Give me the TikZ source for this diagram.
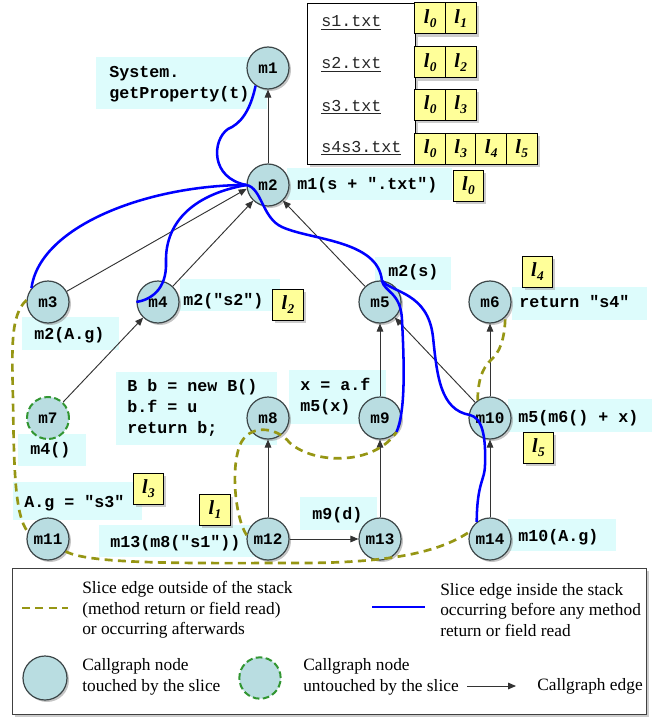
\documentclass[tikz,border=0pt]{standalone}
\usepackage{fontspec}
\setmainfont{Liberation Serif}
\setmonofont{Liberation Mono}
\usetikzlibrary{arrows.meta,shadows}
\definecolor{nodefill}{RGB}{185,221,225}
\definecolor{nodeline}{RGB}{60,70,72}
\definecolor{labelbg}{RGB}{221,252,252}
\definecolor{cellyellow}{RGB}{255,255,153}
\definecolor{slicedashcol}{RGB}{150,150,20}
\definecolor{sliceblue}{RGB}{0,0,255}
\definecolor{untouchgreen}{RGB}{50,150,50}
\newcommand\ellsub[1]{{\bfseries\itshape\fontsize{15}{15}\selectfont l\kern0.3pt\raisebox{-3pt}{\fontsize{10}{10}\selectfont #1}}}
\begin{document}
\begin{tikzpicture}[x=0.75pt,y=-0.75pt,
  cgbase/.style={circle, draw=nodeline, line width=0.9pt, fill=nodefill, minimum size=31.5pt, inner sep=0pt,
    font=\ttfamily\bfseries\fontsize{12}{12}\selectfont},
  cg/.style={cgbase, drop shadow={shadow xshift=1.5pt, shadow yshift=-1.5pt, fill=black!45}},
  untouched/.style={cgbase, draw=untouchgreen, line width=1.5pt, dash pattern=on 5pt off 2.5pt},
  code/.style={font=\ttfamily\bfseries\fontsize{12.5}{15.75}\selectfont, align=left, inner sep=0pt, anchor=west},
  labelbox/.style={fill=labelbg},
  lcell/.style={draw=black, line width=0.75pt, fill=cellyellow, minimum width=22.9pt, minimum height=23.25pt, inner sep=0pt,
    drop shadow={shadow xshift=2pt, shadow yshift=-2pt, fill=black!40}},
  tblbox/.style={draw=black, line width=0.9pt, fill=white, inner sep=0pt,
    drop shadow={shadow xshift=2pt, shadow yshift=-2pt, fill=black!40}},
  cgedge/.style={draw=black!80, line width=0.7pt, -{Triangle[length=6pt,width=5pt]}},
  slice/.style={draw=sliceblue, line width=1.9pt},
  slicedash/.style={draw=slicedashcol, line width=2pt, dash pattern=on 6pt off 4pt},
  fname/.style={font=\ttfamily\fontsize{12.5}{15}\selectfont, text=black!85, anchor=base west, inner sep=0pt},
  legtext/.style={font=\fontsize{13}{15.4}\selectfont, align=left, anchor=west, inner sep=0pt}
]
\useasboundingbox (0,0) rectangle (652,717);

% ---------- table of strings ----------
\node[tblbox, minimum width=81pt, minimum height=120.75pt, anchor=north west] (tbl) at (307,3) {};
\node[fname] (f1) at (321,27) {\underline{s1.txt}};
\node[fname] (f2) at (321,69) {\underline{s2.txt}};
\node[fname] (f3) at (321,111) {\underline{s3.txt}};
\node[fname] (f4) at (321,152) {\underline{s4s3.txt}};
\node[lcell] (c11) at (430.25,18.5) {\ellsub{0}};
\node[lcell] (c12) at (460.75,18.5) {\ellsub{1}};
\node[lcell] (c21) at (430.25,62.5) {\ellsub{0}};
\node[lcell] (c22) at (460.75,62.5) {\ellsub{2}};
\node[lcell] (c31) at (430.25,105) {\ellsub{0}};
\node[lcell] (c32) at (460.75,105) {\ellsub{3}};
\node[lcell] (c41) at (430.25,148.5) {\ellsub{0}};
\node[lcell] (c42) at (460.75,148.5) {\ellsub{3}};
\node[lcell] (c43) at (491.25,148.5) {\ellsub{4}};
\node[lcell] (c44) at (521.75,148.5) {\ellsub{5}};

% ---------- label backgrounds ----------
\fill[labelbox] (96,57) rectangle (267,109);
\fill[labelbox] (287,168) rectangle (452,200);
\fill[labelbox] (22,317) rectangle (119,350);
\fill[labelbox] (180,279) rectangle (280,311);
\fill[labelbox] (375,257) rectangle (451,290);
\fill[labelbox] (512,287) rectangle (647,320);
\fill[labelbox] (18,434) rectangle (86,466);
\fill[labelbox] (116,372) rectangle (277,445);
\fill[labelbox] (289,370) rectangle (386,424);
\fill[labelbox] (508,399) rectangle (652,432);
\fill[labelbox] (13,482) rectangle (142,520);
\fill[labelbox] (99,525) rectangle (258,557);
\fill[labelbox] (300,497) rectangle (377,530);
\fill[labelbox] (508,519) rectangle (616,551);

% ---------- label texts ----------
\node[code] (t1) at (109,84.5) {System.\\getProperty(t)};
\node[code] (t2) at (297,185) {m1(s + ".txt")};
\node[code] (t3) at (34,335) {m2(A.g)};
\node[code] (t4) at (183,301) {m2("s2")};
\node[code] (t5) at (388,272) {m2(s)};
\node[code] (t6) at (519,302) {return "s4"};
\node[code] (t7) at (30,450) {m4()};
\node[code] (t8) at (127,408) {B b = new B()\\b.f = u\\return b;};
\node[code] (t9) at (300,397) {x = a.f\\m5(x)};
\node[code] (t10) at (518,418) {m5(m6() + x)};
\node[code] (t11) at (24,503) {A.g = "s3"};
\node[code] (t12) at (110,543) {m13(m8("s1"))};
\node[code] (t13) at (312,515) {m9(d)};
\node[code] (t14) at (518,537) {m10(A.g)};

% ---------- l boxes ----------
\node[lcell] (L0) at (468.5,186) {\ellsub{0}};
\node[lcell] (L2) at (288,304.5) {\ellsub{2}};
\node[lcell] (L4) at (537.5,271.5) {\ellsub{4}};
\node[lcell] (L5) at (538.5,448) {\ellsub{5}};
\node[lcell] (L3) at (148.5,488.5) {\ellsub{3}};
\node[lcell] (L1) at (215,510) {\ellsub{1}};

% ---------- callgraph nodes ----------
\node[cg] (m1) at (268,68) {m1};
\node[cg] (m2) at (268,185) {m2};
\node[cg] (m3) at (48,302) {m3};
\node[cg] (m4) at (158,302) {m4};
\node[cg] (m5) at (380,302) {m5};
\node[cg] (m6) at (490,302) {m6};
\node[untouched] (m7) at (48,418) {m7};
\node[cg] (m8) at (268,418) {m8};
\node[cg] (m9) at (380,418) {m9};
\node[cg] (m10) at (490,418) {m10};
\node[cg] (m11) at (48,539) {m11};
\node[cg] (m12) at (268,539) {m12};
\node[cg] (m13) at (380,539) {m13};
\node[cg] (m14) at (490,539) {m14};

% ---------- callgraph edges ----------
\draw[cgedge] (m2) -- (m1);
\draw[cgedge] (m3) -- (m2.190);
\draw[cgedge] (m4) -- (m2);
\draw[cgedge] (m5) -- (m2);
\draw[cgedge] (m7) -- (m4);
\draw[cgedge] (m9) -- (m5);
\draw[cgedge] (m10) -- (m5);
\draw[cgedge] (m10) -- (m6);
\draw[cgedge] (m12) -- (m8);
\draw[cgedge] (m13) -- (m9);
\draw[cgedge] (m14) -- (m10);
\draw[cgedge] (m12) -- (m13);

% ---------- slice edges outside the stack ----------
\draw[slicedash] (m3.175) .. controls (10,315) and (12,350) .. (13,400)
   .. controls (14,460) and (14,515) .. (m11.160);
\draw[slicedash] (m11.-35) .. controls (90,565) and (200,563) .. (300,563)
   .. controls (390,563) and (440,552) .. (m14.160);
\draw[slicedash] (m12.170) .. controls (236,520) and (230,470) .. (240,445)
   .. controls (248,425) and (275,425) .. (290,443)
   .. controls (315,465) and (375,465) .. (m9.-40);
\draw[slicedash] (m10.125) .. controls (478,375) and (485,365) .. (493,358)
   .. controls (503,348) and (505,330) .. (m6.-45);

% ---------- slice edges inside the stack ----------
\draw[slice] (m1.235) .. controls (250,112) and (240,124) .. (228,129)
   .. controls (212,140) and (210,178) .. (m2.west);
\draw[slice] (m2.west) .. controls (150,185) and (40,225) .. (m3.140);
\draw[slice] (m2.west) .. controls (190,195) and (165,225) .. (166,262)
   .. controls (167,290) and (150,300) .. (m4.west);
\draw[slice] (m2.west) .. controls (262,188) and (262,218) .. (282,227)
   .. controls (310,240) and (378,240) .. (m5.85);
\draw[slice] (m5.85) .. controls (384,292) and (401,292) .. (402,320)
   .. controls (404,360) and (406,410) .. (m9.-40);
\draw[slice] (m5.85) .. controls (392,293) and (428,292) .. (433,337)
   .. controls (437,375) and (440,410) .. (470,415)
   .. controls (482,418) and (486,435) .. (485,465)
   .. controls (485,480) and (477,482) .. (m14.128);

% ---------- legend ----------
\node[tblbox, draw=black!75, minimum width=475.5pt, minimum height=109.5pt, anchor=north west] (leg) at (12,568) {};
\coordinate (ld1) at (22,608);
\coordinate (ld2) at (68,608);
\draw[slicedash] (ld1) -- (ld2);
\node[legtext] (lt1) at (82,610) {Slice edge outside of the stack\\(method return or field read)\\or occurring afterwards};
\coordinate (lb1) at (372,607);
\coordinate (lb2) at (425,607);
\draw[slice] (lb1) -- (lb2);
\node[legtext] (lt2) at (440,610) {Slice edge inside the stack\\occurring before any method\\return or field read};
\node[cg, minimum size=33pt] (legT) at (45,678) {};
\node[legtext] (lt3) at (82,677) {Callgraph node\\touched by the slice};
\node[untouched, minimum size=31pt] (legU) at (260,678) {};
\node[legtext] (lt4) at (303,677) {Callgraph node\\untouched by the slice};
\coordinate (la1) at (467,686);
\coordinate (la2) at (516,686);
\draw[cgedge] (la1) -- (la2);
\node[legtext] (lt5) at (537,686) {Callgraph edge};
\end{tikzpicture}
\end{document}
